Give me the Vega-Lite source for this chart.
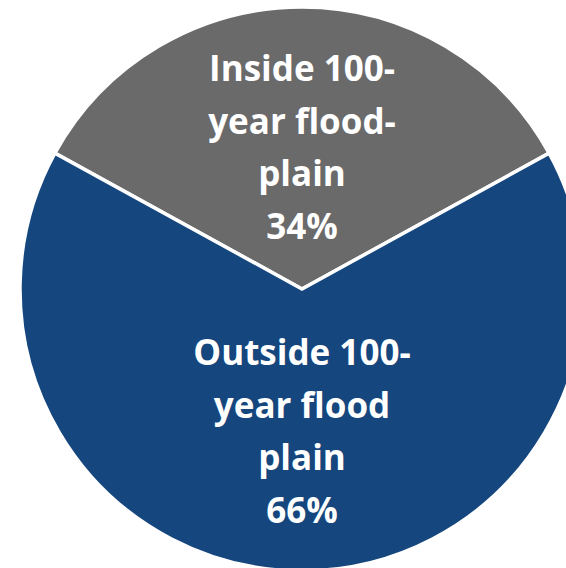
{
  "$schema": "https://vega.github.io/schema/vega-lite/v6.json",
  "width": 604,
  "height": 578,
  "padding": 0,
  "autosize": "none",
  "background": "white",
  "view": {"stroke": null},
  "data": {
    "values": [
      {"category": "Inside 100-year flood-plain", "label": ["Inside 100-", "year flood-", "plain", "34%"], "value": 34, "rank": 1},
      {"category": "Outside 100-year flood plain", "label": ["Outside 100-", "year flood", "plain", "66%"], "value": 66, "rank": 2}
    ]
  },
  "encoding": {
    "theta": {"field": "value", "type": "quantitative", "stack": true, "scale": {"range": [-1.0681, 5.2151]}},
    "order": {"field": "rank", "type": "quantitative"}
  },
  "layer": [
    {
      "mark": {"type": "arc", "radius": 282, "stroke": "white", "strokeWidth": 3.5},
      "encoding": {
        "color": {
          "field": "category",
          "type": "nominal",
          "scale": {"domain": ["Inside 100-year flood-plain", "Outside 100-year flood plain"], "range": ["#6a6a6b", "#15467e"]},
          "legend": null
        }
      }
    },
    {
      "mark": {"type": "text", "radius": 142, "dy": -77, "font": "Open Sans", "fontWeight": "bold", "fontSize": 35, "fill": "white", "align": "center", "baseline": "middle", "lineHeight": 52.5},
      "encoding": {"text": {"field": "label"}}
    }
  ]
}
